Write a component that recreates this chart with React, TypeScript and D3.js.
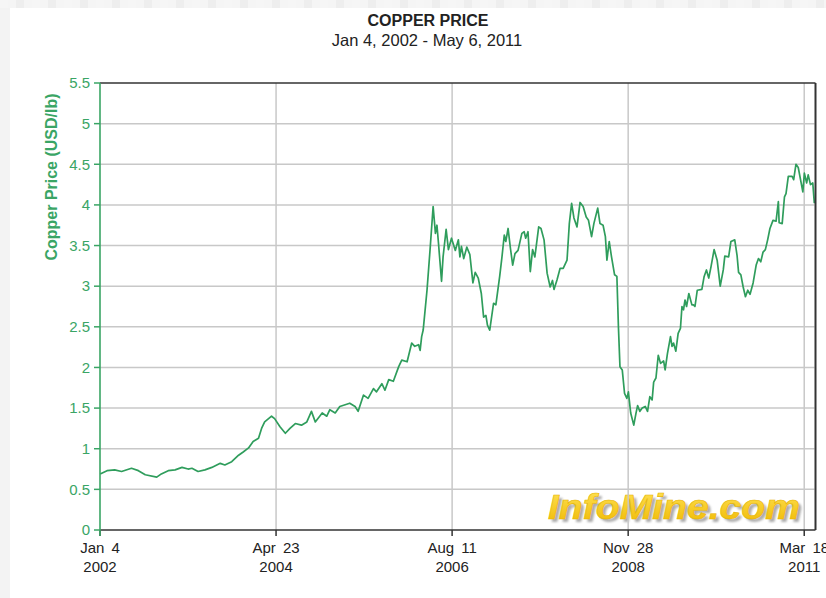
import React from "react";
import * as d3 from "d3";

// Decimal-year dates and copper price (USD/lb)
const years = [
  2002.01, 2002.10, 2002.20, 2002.29, 2002.42, 2002.51, 2002.60, 2002.75, 2002.81, 2002.90,
  2002.99, 2003.08, 2003.16, 2003.21, 2003.29, 2003.38, 2003.47, 2003.58, 2003.64, 2003.73,
  2003.82, 2003.88, 2003.95, 2004.01, 2004.08, 2004.12, 2004.16, 2004.25, 2004.29, 2004.36,
  2004.43, 2004.49, 2004.56, 2004.64, 2004.71, 2004.77, 2004.82, 2004.91, 2004.97, 2005.01,
  2005.08, 2005.14, 2005.27, 2005.34, 2005.38, 2005.45, 2005.51, 2005.58, 2005.62, 2005.69,
  2005.73, 2005.78, 2005.84, 2005.91, 2005.95, 2006.02, 2006.08, 2006.12, 2006.17, 2006.19,
  2006.21, 2006.23, 2006.28, 2006.32, 2006.36, 2006.39, 2006.41, 2006.43, 2006.47, 2006.49,
  2006.53, 2006.56, 2006.60, 2006.65, 2006.69, 2006.71, 2006.73, 2006.76, 2006.80, 2006.84,
  2006.88, 2006.91, 2006.95, 2006.99, 2007.02, 2007.05, 2007.07, 2007.10, 2007.15, 2007.18,
  2007.23, 2007.26, 2007.29, 2007.31, 2007.34, 2007.37, 2007.40, 2007.43, 2007.47, 2007.52,
  2007.55, 2007.57, 2007.60, 2007.63, 2007.66, 2007.69, 2007.74, 2007.77, 2007.81, 2007.85,
  2007.89, 2007.92, 2007.94, 2007.98, 2008.02, 2008.06, 2008.11, 2008.14, 2008.17, 2008.20,
  2008.24, 2008.28, 2008.32, 2008.36, 2008.39, 2008.43, 2008.46, 2008.51, 2008.54, 2008.58,
  2008.61, 2008.63, 2008.66, 2008.69, 2008.73, 2008.76, 2008.78, 2008.80, 2008.83, 2008.86,
  2008.89, 2008.91, 2008.94, 2008.98, 2009.01, 2009.03, 2009.06, 2009.09, 2009.13, 2009.16,
  2009.19, 2009.22, 2009.24, 2009.27, 2009.30, 2009.33, 2009.37, 2009.39, 2009.42, 2009.46,
  2009.48, 2009.50, 2009.53, 2009.56, 2009.59, 2009.61, 2009.63, 2009.65, 2009.67, 2009.70,
  2009.74, 2009.76, 2009.78, 2009.81, 2009.87, 2009.90, 2009.93, 2009.96, 2009.99, 2010.03,
  2010.07, 2010.11, 2010.15, 2010.17, 2010.22, 2010.25, 2010.30, 2010.33, 2010.35, 2010.38,
  2010.41, 2010.44, 2010.47, 2010.50, 2010.54, 2010.58, 2010.61, 2010.64, 2010.67, 2010.70,
  2010.73, 2010.76, 2010.80, 2010.84, 2010.87, 2010.88, 2010.92, 2010.95, 2010.97, 2011.00,
  2011.05, 2011.07, 2011.10, 2011.13, 2011.16, 2011.19, 2011.21, 2011.24, 2011.26, 2011.29,
  2011.32, 2011.34,
];
const prices = [
  0.69, 0.73, 0.74, 0.72, 0.76, 0.73, 0.68, 0.65, 0.69, 0.73,
  0.74, 0.77, 0.75, 0.76, 0.72, 0.74, 0.77, 0.82, 0.80, 0.84,
  0.92, 0.96, 1.01, 1.09, 1.13, 1.25, 1.33, 1.40, 1.37, 1.27,
  1.19, 1.25, 1.31, 1.29, 1.33, 1.46, 1.33, 1.44, 1.40, 1.48,
  1.44, 1.52, 1.56, 1.52, 1.46, 1.66, 1.62, 1.74, 1.70, 1.80,
  1.72, 1.85, 1.83, 2.01, 2.09, 2.07, 2.30, 2.26, 2.28, 2.21,
  2.38, 2.46, 2.95, 3.45, 3.98, 3.65, 3.75, 3.53, 3.06, 3.36,
  3.70, 3.45, 3.59, 3.44, 3.57, 3.36, 3.49, 3.34, 3.48, 3.39,
  3.04, 3.17, 3.10, 2.91, 2.62, 2.64, 2.52, 2.46, 2.79, 2.77,
  3.12, 3.36, 3.63, 3.55, 3.71, 3.47, 3.26, 3.40, 3.44, 3.65,
  3.67, 3.59, 3.67, 3.18, 3.45, 3.36, 3.73, 3.71, 3.57, 3.16,
  2.99, 3.07, 2.96, 3.08, 3.22, 3.22, 3.32, 3.77, 4.02, 3.84,
  3.73, 4.03, 3.98, 3.85, 3.81, 3.61, 3.77, 3.96, 3.77, 3.75,
  3.61, 3.32, 3.55, 3.36, 3.14, 3.12, 2.50, 2.01, 1.97, 1.68,
  1.62, 1.70, 1.44, 1.29, 1.44, 1.53, 1.46, 1.50, 1.52, 1.46,
  1.64, 1.60, 1.82, 1.87, 2.15, 2.05, 2.08, 1.97, 2.17, 2.38,
  2.26, 2.30, 2.20, 2.42, 2.48, 2.75, 2.71, 2.83, 2.75, 2.91,
  2.77, 2.77, 2.75, 2.95, 2.96, 3.12, 3.20, 3.10, 3.24, 3.45,
  3.32, 3.00, 3.20, 3.37, 3.36, 3.55, 3.57, 3.38, 3.17, 3.14,
  2.99, 2.87, 2.95, 2.90, 3.04, 3.26, 3.34, 3.30, 3.42, 3.45,
  3.57, 3.71, 3.81, 3.80, 4.04, 3.78, 3.77, 4.10, 4.14, 4.35,
  4.35, 4.31, 4.50, 4.46, 4.31, 4.16, 4.39, 4.27, 4.37, 4.25,
  4.27, 4.02,
];

const xDomain = ["2002-01-04", "2011-05-06"];
const xTickDates = ["2002-01-04", "2004-04-23", "2006-08-11", "2008-11-28", "2011-03-18"];
const yTicks = [0, 0.5, 1, 1.5, 2, 2.5, 3, 3.5, 4, 4.5, 5, 5.5];

const title = "COPPER PRICE";
const subtitle = "Jan 4, 2002 - May 6, 2011";
const yTitle = "Copper Price (USD/lb)";
const watermark = "InfoMine.com";

const parse = d3.timeParse("%Y-%m-%d");
const decYearToDate = (y: number) => {
  const Y = Math.floor(y);
  const s = new Date(Y, 0, 1).getTime();
  const e = new Date(Y + 1, 0, 1).getTime();
  return new Date(s + (y - Y) * (e - s));
};
const fmtMD = d3.timeFormat("%b %-d");
const fmtY = d3.timeFormat("%Y");

export default function App() {
  const W = 826, H = 598;
  const left = 100, right = 814.5, top = 83, bottom = 530;
  const green = "#2f9d5c";
  const axisGreen = "#3aa565";

  const x = d3.scaleTime().domain(xDomain.map((d) => parse(d) as Date)).range([left, right]);
  const y = d3.scaleLinear().domain([0, 5.5]).range([bottom, top]);

  const data = years.map((yr, i) => ({ d: decYearToDate(yr), v: prices[i] }));
  const line = d3.line<{ d: Date; v: number }>().x((p) => x(p.d)).y((p) => y(p.v));
  const tickDates = xTickDates.map((d) => parse(d) as Date);

  const checker = d3.range(0, W, 16);
  const font = "'Liberation Sans', Arial, sans-serif";
  const narrow = "'Liberation Sans Narrow', 'Arial Narrow', sans-serif";

  return (
    <svg width={W} height={H} style={{ position: "absolute", left: 0, top: 0, display: "block" }}>
      <defs>
        <linearGradient id="wmGrad" x1="0" y1="0" x2="0" y2="1">
          <stop offset="0%" stopColor="#ffe45a" />
          <stop offset="100%" stopColor="#f0b800" />
        </linearGradient>
        <filter id="wmBlur" x="-10%" y="-10%" width="120%" height="140%">
          <feGaussianBlur stdDeviation="1.2" />
        </filter>
      </defs>
      <rect x={0} y={0} width={W} height={H} fill="#ffffff" />
      <rect x={0} y={0} width={10} height={H} fill="#f3f3f3" />
      <rect x={0} y={0} width={W} height={8} fill="#f5f5f5" />
      {checker.map((cx, i) => (
        <rect key={i} x={cx} y={0} width={8} height={8} fill={i % 2 ? "#eeeeee" : "#f6f6f6"} />
      ))}

      {/* titles */}
      <text x={428} y={26} textAnchor="middle" fontFamily={narrow} fontWeight="bold" fontSize={16} fill="#222">
        {title}
      </text>
      <text x={427} y={46} textAnchor="middle" fontFamily={narrow} fontSize={16.5} fill="#222">
        {subtitle}
      </text>

      {/* watermark */}
      <text x={551} y={522} fontFamily={font} fontWeight={900} fontStyle="italic" fontSize={35}
        textLength={252} lengthAdjust="spacingAndGlyphs" fill="#8a8a8a" opacity={0.7} filter="url(#wmBlur)">
        {watermark}
      </text>
      <text x={548} y={519} fontFamily={font} fontWeight={900} fontStyle="italic" fontSize={35}
        textLength={252} lengthAdjust="spacingAndGlyphs" fill="url(#wmGrad)" stroke="#e8b400" strokeWidth={0.6}>
        {watermark}
      </text>

      {/* gridlines */}
      {yTicks.filter((t) => t > 0 && t < 5.5).map((t) => (
        <line key={"gy" + t} x1={left} x2={right} y1={y(t)} y2={y(t)} stroke="#c8c8c8" strokeWidth={1.5} />
      ))}
      {tickDates.slice(1).map((d, i) => (
        <line key={"gx" + i} x1={x(d)} x2={x(d)} y1={top} y2={bottom} stroke="#c8c8c8" strokeWidth={1.5} />
      ))}

      {/* data line */}
      <path d={line(data) || ""} fill="none" stroke={green} strokeWidth={1.7} strokeLinejoin="round" />

      {/* frame */}
      <line x1={left} x2={right + 1} y1={top} y2={top} stroke="#333" strokeWidth={1.5} />
      <line x1={right + 1} x2={right + 1} y1={top} y2={bottom} stroke="#333" strokeWidth={2} />
      <line x1={left} x2={right + 1} y1={bottom} y2={bottom} stroke="#333" strokeWidth={1.5} />

      {/* x axis ticks */}
      {tickDates.map((d, i) => (
        <g key={"xt" + i} transform={`translate(${x(d)},0)`}>
          <line y1={bottom} y2={bottom + 6} stroke="#333" strokeWidth={1.5} />
          <text y={bottom + 23} textAnchor="middle" fontFamily={font} fontSize={15} fill="#222" wordSpacing={3}>
            {fmtMD(d)}
          </text>
          <text y={bottom + 42} textAnchor="middle" fontFamily={font} fontSize={15} fill="#222">
            {fmtY(d)}
          </text>
        </g>
      ))}

      {/* y axis */}
      <line x1={left} x2={left} y1={top} y2={bottom + 6} stroke={axisGreen} strokeWidth={1.6} />
      {yTicks.map((t) => (
        <g key={"yt" + t} transform={`translate(0,${y(t)})`}>
          <line x1={left - 6} x2={left} stroke={axisGreen} strokeWidth={1.5} />
          <text x={left - 10} dy="0.35em" textAnchor="end" fontFamily={font} fontSize={15} fill={axisGreen}>
            {String(t)}
          </text>
        </g>
      ))}
      <text transform="translate(57,177) rotate(-90)" textAnchor="middle" fontFamily={font} fontWeight="bold" fontSize={16} fill={axisGreen}>
        {yTitle}
      </text>
    </svg>
  );
}
